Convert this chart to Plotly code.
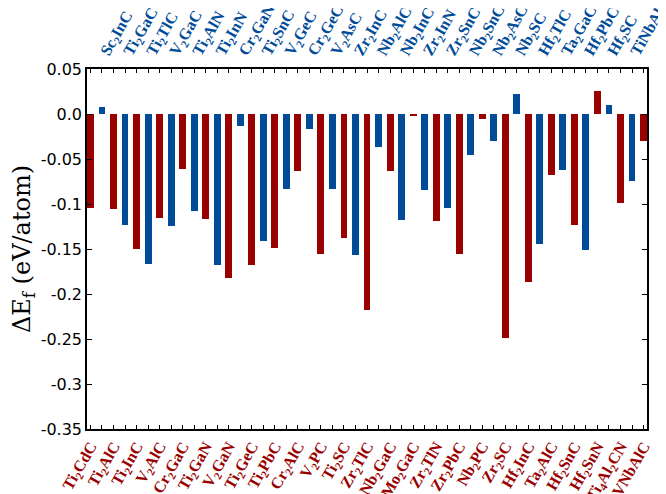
import plotly.graph_objects as go

red_labels = ["Ti<sub>2</sub>CdC", "Ti<sub>2</sub>AlC", "Ti<sub>2</sub>InC", "V<sub>2</sub>AlC", "Cr<sub>2</sub>GaC",
              "Ti<sub>2</sub>GaN", "V<sub>2</sub>GaN", "Ti<sub>2</sub>GeC", "Ti<sub>2</sub>PbC", "Cr<sub>2</sub>AlC",
              "V<sub>2</sub>PC", "Ti<sub>2</sub>SC", "Zr<sub>2</sub>TlC", "Nb<sub>2</sub>GaC", "Mo<sub>2</sub>GaC",
              "Zr<sub>2</sub>TlN", "Zr<sub>2</sub>PbC", "Nb<sub>2</sub>PC", "Zr<sub>2</sub>SC", "Hf<sub>2</sub>InC",
              "Ta<sub>2</sub>AlC", "Hf<sub>2</sub>SnC", "Hf<sub>2</sub>SnN", "Ti<sub>4</sub>Al<sub>2</sub>CN", "VNbAlC"]
red_values = [-0.104, -0.105, -0.150, -0.115, -0.0615, -0.117, -0.1826, -0.168, -0.149, -0.063,
              -0.156, -0.138, -0.218, -0.0637, -0.0026, -0.1185, -0.156, -0.0059, -0.249, -0.187,
              -0.068, -0.123, 0.026, -0.0993, -0.030]

blue_labels = ["Sc<sub>2</sub>InC", "Ti<sub>2</sub>GaC", "Ti<sub>2</sub>TlC", "V<sub>2</sub>GaC", "Ti<sub>2</sub>AlN",
               "Ti<sub>2</sub>InN", "Cr<sub>2</sub>GaN", "Ti<sub>2</sub>SnC", "V<sub>2</sub>GeC", "Cr<sub>2</sub>GeC",
               "V<sub>2</sub>AsC", "Zr<sub>2</sub>InC", "Nb<sub>2</sub>AlC", "Nb<sub>2</sub>InC", "Zr<sub>2</sub>InN",
               "Zr<sub>2</sub>SnC", "Nb<sub>2</sub>SnC", "Nb<sub>2</sub>AsC", "Nb<sub>2</sub>SC", "Hf<sub>2</sub>TlC",
               "Ta<sub>2</sub>GaC", "Hf<sub>2</sub>PbC", "Hf<sub>2</sub>SC", "TiNbAlC"]
blue_values = [0.0074, -0.123, -0.167, -0.124, -0.108, -0.168, -0.0137, -0.1415, -0.0837, -0.017,
               -0.0837, -0.157, -0.037, -0.1174, -0.0848, -0.1048, -0.045, -0.030, 0.0226, -0.1448,
               -0.0626, -0.1507, 0.0104, -0.0748]

y_ticks = [0.05, 0.0, -0.05, -0.1, -0.15, -0.2, -0.25, -0.3, -0.35]
y_tick_text = ["0.05", "0.0", "-0.05", "-0.1", "-0.15", "-0.2", "-0.25", "-0.3", "-0.35"]

RED = "#990000"
BLUE = "#004c99"

red_x = [2 * i for i in range(len(red_values))]
blue_x = [2 * i + 1 for i in range(len(blue_values))]
n = len(red_x) + len(blue_x)
all_x = list(range(n))

fig = go.Figure()
fig.add_trace(go.Bar(x=red_x, y=red_values, width=0.6, marker=dict(color=RED, line=dict(width=0)),
                     showlegend=False))
fig.add_trace(go.Bar(x=blue_x, y=blue_values, width=0.6, marker=dict(color=BLUE, line=dict(width=0)),
                     showlegend=False, xaxis="x2"))

bottom_text = []
top_text = []
for i in all_x:
    if i % 2 == 0:
        bottom_text.append(red_labels[i // 2])
        top_text.append("")
    else:
        bottom_text.append("")
        top_text.append(blue_labels[i // 2])

xr = [-0.3, n - 1 + 0.3]
tickfont_family = "Liberation Serif"

fig.update_layout(
    width=666, height=494,
    margin=dict(l=79, r=27, t=61, b=73),
    plot_bgcolor="white", paper_bgcolor="white",
    bargap=0,
    xaxis=dict(range=xr, tickmode="array", tickvals=all_x, ticktext=bottom_text,
               tickangle=-60, ticks="inside", ticklen=4, tickwidth=1, tickcolor="black",
               showline=True, linecolor="black", linewidth=1.5, showgrid=False, zeroline=False,
               automargin=False, ticklabeloverflow="allow",
               tickfont=dict(family=tickfont_family, size=16, color=RED, weight="bold")),
    xaxis2=dict(range=xr, overlaying="x", side="top", tickmode="array", tickvals=all_x,
                ticktext=top_text, tickangle=-60, ticks="inside", ticklen=4, tickwidth=1,
                tickcolor="black", showline=True, linecolor="black", linewidth=1.5,
                showgrid=False, zeroline=False, automargin=False, ticklabeloverflow="allow",
                tickfont=dict(family=tickfont_family, size=16, color=BLUE, weight="bold")),
    yaxis=dict(range=[-0.35, 0.05], tickmode="array", tickvals=y_ticks, ticktext=y_tick_text,
               ticks="inside", ticklen=5, tickwidth=1, tickcolor="black", mirror="ticks",
               showline=True, linecolor="black", linewidth=1.5, showgrid=False, zeroline=False,
               automargin=False,
               tickfont=dict(family="DejaVu Sans", size=16, color="black"),
               title=dict(text="ΔE<sub>f</sub> (eV/atom)", standoff=6,
                          font=dict(family="DejaVu Serif", size=24, color="black"))),
)

fig.write_html("out.html")
